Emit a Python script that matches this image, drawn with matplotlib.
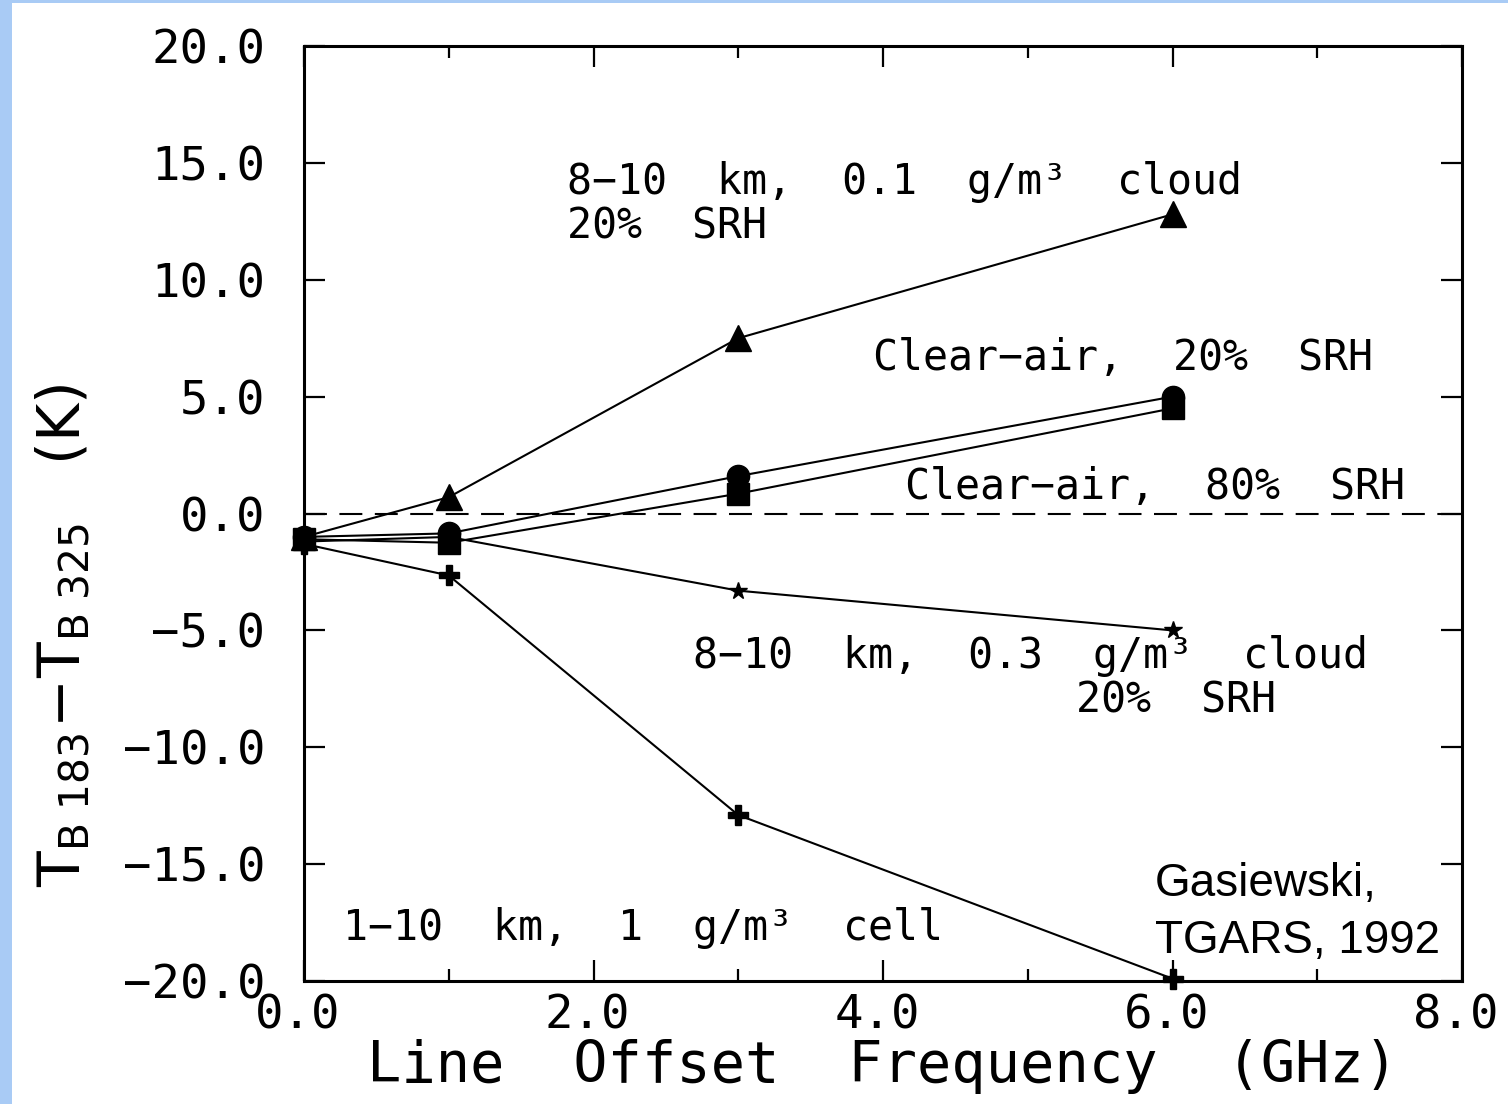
import matplotlib
matplotlib.use("Agg")
import matplotlib.pyplot as plt
import matplotlib.transforms as mtransforms
from matplotlib.patches import Rectangle

# Data (Line offset frequency in GHz vs TB183 - TB325 in K)
offsets = [0.0, 1.0, 3.0, 6.0]
cloud01_20 = [-1.0, 0.7, 7.5, 12.8]
clear_20 = [-1.0, -0.85, 1.6, 5.0]
clear_80 = [-1.1, -1.25, 0.85, 4.5]
cloud03_20 = [-1.2, -1.0, -3.3, -5.0]
cell_1 = [-1.3, -2.65, -12.9, -19.9]

ytick_vals = [-20, -15, -10, -5, 0, 5, 10, 15, 20]
ytick_labels = ["\u221220.0", "\u221215.0", "\u221210.0", "\u22125.0", "0.0", "5.0", "10.0", "15.0", "20.0"]
xtick_vals = [0, 2, 4, 6, 8]
xtick_labels = ["0.0", "2.0", "4.0", "6.0", "8.0"]
xminor_vals = [1, 3, 5, 7]

MONO = ['DejaVu Sans Mono', 'DejaVu Sans']
plt.rcParams['font.family'] = MONO
fig = plt.figure(figsize=(15.08, 11.04), dpi=100)
fig.patch.set_facecolor('white')
# light blue frame of the slide
fig.add_artist(Rectangle((0, 0), 0.008, 1, transform=fig.transFigure, color='#a9cbf5', lw=0))
fig.add_artist(Rectangle((0, 0.997), 1, 0.003, transform=fig.transFigure, color='#a9cbf5', lw=0))

ax = fig.add_axes([0.2016, 0.1114, 0.7679, 0.8469])
lw = 1.5
kw = dict(color='black', lw=lw, clip_on=False, zorder=3)
ax.plot(offsets, cloud01_20, marker='^', ms=19, **kw)
ax.plot(offsets, clear_20, marker='o', ms=16, **kw)
ax.plot(offsets, clear_80, marker='s', ms=16, **kw)
ax.plot(offsets, cloud03_20, marker='*', ms=13, **kw)
ax.plot(offsets, cell_1, marker='P', ms=15, **kw)
ax.axhline(0, color='black', lw=1.5, ls=(0, (11, 6)))

ax.set_xlim(0, 8)
ax.set_ylim(-20, 20)
ax.set_xticks(xtick_vals)
ax.set_xticklabels(xtick_labels)
ax.set_xticks(xminor_vals, minor=True)
ax.set_yticks(ytick_vals)
ax.set_yticklabels(ytick_labels)
ax.tick_params(axis='both', which='major', direction='in', length=15, width=1.6,
               top=True, right=True, labelsize=34)
ax.tick_params(axis='both', which='minor', direction='in', length=8.5, width=1.6,
               top=True, right=True)
ax.tick_params(axis='x', pad=9)
ax.tick_params(axis='y', pad=28)
for s in ax.spines.values():
    s.set_linewidth(2.2)
off = mtransforms.ScaledTranslation(-6 / 100, 0, fig.dpi_scale_trans)
for lab in ax.get_xticklabels():
    lab.set_transform(lab.get_transform() + off)

ax.set_xlabel("Line  Offset  Frequency  (GHz)", fontsize=41)
ax.xaxis.set_label_coords(0.5, -0.062)
ax.set_ylabel(r"$\mathregular{T_{B\ 183}\!-\!T_{B\ 325}}$   (K)", fontsize=42,
              family='DejaVu Sans')
ax.yaxis.set_label_coords(-0.183, 0.37)

fs = 30
ax.text(1.82, 14.2, "8\u221210  km,  0.1  g/m\u00b3  cloud", fontsize=fs, ha='left', va='center')
ax.text(1.82, 12.3, "20%  SRH", fontsize=fs, ha='left', va='center')
ax.text(3.93, 6.65, "Clear\u2212air,  20%  SRH", fontsize=fs, ha='left', va='center')
ax.text(4.15, 1.12, "Clear\u2212air,  80%  SRH", fontsize=fs, ha='left', va='center')
ax.text(2.69, -6.1, "8\u221210  km,  0.3  g/m\u00b3  cloud", fontsize=fs, ha='left', va='center')
ax.text(5.33, -8.0, "20%  SRH", fontsize=fs, ha='left', va='center')
ax.text(0.27, -17.75, "1\u221210  km,  1  g/m\u00b3  cell", fontsize=fs, ha='left', va='center')
ax.text(5.88, -15.85, "Gasiewski,", fontsize=33, ha='left', va='center', family='Liberation Sans')
ax.text(5.88, -18.3, "TGARS, 1992", fontsize=33, ha='left', va='center', family='Liberation Sans')

fig.savefig("out.png", dpi=100)
